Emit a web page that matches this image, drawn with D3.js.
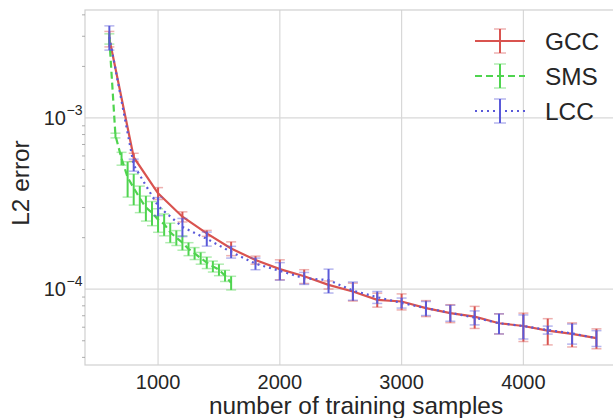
<!DOCTYPE html>
<html><head><meta charset="utf-8">
<script src="https://cdn.jsdelivr.net/npm/d3@7"></script>
<style>body{margin:0;background:#fff;}svg{display:block;font-family:"Liberation Sans",Arial,sans-serif;}</style>
</head><body>
<script>
const xsBig = [600,800,1000,1200,1400,1600,1800,2000,2200,2400,2600,2800,3000,3200,3400,3600,3800,4000,4200,4400,4600];
const gccVals = [2.9e-3,5.9e-4,3.63e-4,2.65e-4,2.12e-4,1.73e-4,1.48e-4,1.31e-4,1.19e-4,1.06e-4,9.69e-5,8.67e-5,8.48e-5,7.75e-5,7.25e-5,6.92e-5,6.33e-5,6.1e-5,5.73e-5,5.48e-5,5.18e-5];
const gccErr = [3e-4,3.2e-5,2.9e-5,1.8e-5,8.5e-6,1.6e-5,8e-6,1.75e-5,1.1e-5,5.7e-6,1.16e-5,8.1e-6,9.1e-6,8.3e-6,8.7e-6,1.02e-5,8.5e-6,1.15e-5,1.0e-5,8.8e-6,6.9e-6];
const lccVals = [2.97e-3,5.32e-4,3.06e-4,2.31e-4,1.97e-4,1.65e-4,1.41e-4,1.28e-4,1.16e-4,1.13e-4,9.82e-5,8.98e-5,8.32e-5,7.75e-5,7.28e-5,6.83e-5,6.33e-5,6.1e-5,5.78e-5,5.52e-5,5.18e-5];
const lccErr = [4.8e-4,4.3e-5,3.7e-5,2.8e-5,1.85e-5,1.3e-5,1.1e-5,1.5e-5,9.3e-6,1.8e-5,1.2e-5,7.2e-6,5.6e-6,7.3e-6,7.8e-6,6.4e-6,8.5e-6,9.8e-6,3.1e-6,7.4e-6,5.5e-6];
const xsSms = [600,650,700,750,800,850,900,950,1000,1050,1100,1150,1200,1250,1300,1350,1400,1450,1500,1550,1600];
const smsVals = [2.9e-3,7.9e-4,5.8e-4,4.5e-4,3.9e-4,3.4e-4,3.0e-4,2.8e-4,2.55e-4,2.4e-4,2.15e-4,2.0e-4,1.87e-4,1.72e-4,1.62e-4,1.52e-4,1.43e-4,1.36e-4,1.30e-4,1.20e-4,1.09e-4];
const smsErr = [2e-4,2.5e-5,5e-5,1.05e-4,8e-5,6e-5,5e-5,4.5e-5,4e-5,3.5e-5,2.8e-5,2e-5,1.8e-5,1.5e-5,1.3e-5,1.2e-5,1.1e-5,1e-5,1e-5,9e-6,1e-5];
const seriesNames = ["GCC","SMS","LCC"];
const xTicks = [1000,2000,3000,4000];
const yMajor = [1e-3,1e-4];
const xLabel = "number of training samples";
const yLabel = "L2 error";

const W=613,H=418;
const svg=d3.select("body").append("svg").attr("width",W).attr("height",H);
const L=85,R=620.8,T=10,B=365;
const x=d3.scaleLinear().domain([400,4800]).range([L,R]);
const y=d3.scaleLog().domain([3.61e-5,4.27e-3]).range([B,T]);

const styles = {
  GCC:{color:"#d9534f",dash:null,cap:"rgba(217,83,79,0.45)"},
  SMS:{color:"#4fd44f",dash:"7,4",cap:"rgba(79,212,79,0.45)"},
  LCC:{color:"#5a5ad9",dash:"2,4",cap:"rgba(90,90,217,0.45)"}
};

// grid
const g=svg.append("g");
g.selectAll(".gx").data(xTicks).enter().append("line")
 .attr("x1",d=>x(d)).attr("x2",d=>x(d)).attr("y1",T).attr("y2",B)
 .attr("stroke","#d8d8d8").attr("stroke-width",1.2);
g.selectAll(".gy").data(yMajor).enter().append("line")
 .attr("x1",L).attr("x2",R).attr("y1",d=>y(d)).attr("y2",d=>y(d))
 .attr("stroke","#d8d8d8").attr("stroke-width",1.2);

// frame
svg.append("rect").attr("x",L).attr("y",T).attr("width",R-L).attr("height",B-T)
 .attr("fill","none").attr("stroke","#d0d0d0").attr("stroke-width",1.2);

// minor y ticks
const minor=[];
[1e-5,1e-4,1e-3].forEach(b=>{for(let k=2;k<=9;k++){const v=b*k; if(v>=3.61e-5&&v<=4.27e-3) minor.push(v);}});
svg.selectAll(".mt").data(minor).enter().append("line")
 .attr("x1",L-3).attr("x2",L).attr("y1",d=>y(d)).attr("y2",d=>y(d))
 .attr("stroke","#999").attr("stroke-width",0.8);

// x tick labels
svg.selectAll(".xt").data(xTicks).enter().append("text")
 .attr("x",d=>x(d)).attr("y",388.5).attr("text-anchor","middle")
 .attr("font-size",20).attr("fill","#262626").text(d=>d);
// y tick labels
yMajor.forEach(v=>{
  svg.append("text").attr("x",66).attr("y",y(v)+7).attr("text-anchor","end")
   .attr("font-size",20).attr("fill","#262626").text("10");
  svg.append("text").attr("x",66.5).attr("y",y(v)-3).attr("font-size",14).attr("fill","#262626")
   .text("\u2212"+Math.round(-Math.log10(v)));
});
svg.append("text").attr("x",356).attr("y",414).attr("text-anchor","middle")
 .attr("font-size",24.4).attr("fill","#262626").text(xLabel);
svg.append("text").attr("transform","translate(29,183) rotate(-90)").attr("text-anchor","middle")
 .attr("font-size",24.4).attr("fill","#262626").text(yLabel);

function drawSeries(name,xs,vals,errs){
  const s=styles[name];
  const data=xs.map((d,i)=>({x:d,v:vals[i],e:errs[i]}));
  const line=d3.line().x(d=>x(d.x)).y(d=>y(d.v));
  const gg=svg.append("g");
  gg.append("path").datum(data).attr("d",line).attr("fill","none")
    .attr("stroke",s.color).attr("stroke-width",2.2).attr("stroke-dasharray",s.dash);
  gg.selectAll(".eb").data(data).enter().append("line")
    .attr("x1",d=>x(d.x)).attr("x2",d=>x(d.x)).attr("y1",d=>y(d.v+d.e)).attr("y2",d=>y(d.v-d.e))
    .attr("stroke",s.color).attr("stroke-width",2);
  ["top","bot"].forEach(k=>{
    gg.selectAll(".cap"+k).data(data).enter().append("line")
     .attr("x1",d=>x(d.x)-5).attr("x2",d=>x(d.x)+5)
     .attr("y1",d=>y(k==="top"?d.v+d.e:d.v-d.e)).attr("y2",d=>y(k==="top"?d.v+d.e:d.v-d.e))
     .attr("stroke",s.cap).attr("stroke-width",1.5);
  });
}
drawSeries("GCC",xsBig,gccVals,gccErr);
drawSeries("SMS",xsSms,smsVals,smsErr);
drawSeries("LCC",xsBig,lccVals,lccErr);

// legend
const ly=[41,76,111];
seriesNames.forEach((n,i)=>{
  const s=styles[n];
  const lg=svg.append("g");
  lg.append("line").attr("x1",475).attr("x2",525).attr("y1",ly[i]).attr("y2",ly[i])
    .attr("stroke",s.color).attr("stroke-width",2.2).attr("stroke-dasharray",s.dash);
  lg.append("line").attr("x1",500).attr("x2",500).attr("y1",ly[i]-12).attr("y2",ly[i]+12)
    .attr("stroke",s.color).attr("stroke-width",2);
  [-12,12].forEach(o=>lg.append("line").attr("x1",494).attr("x2",506).attr("y1",ly[i]+o).attr("y2",ly[i]+o)
    .attr("stroke",s.cap).attr("stroke-width",1.5));
  lg.append("text").attr("x",545).attr("y",ly[i]+8.5).attr("font-size",24.4).attr("fill","#262626").text(n);
});
</script>
</body></html>
